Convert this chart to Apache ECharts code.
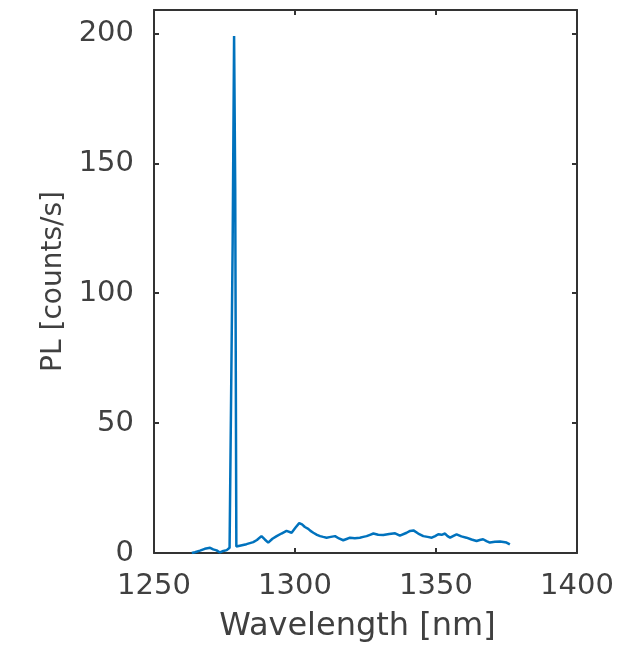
<!DOCTYPE html>
<html>
<head>
<meta charset="utf-8">
<script src="https://cdn.jsdelivr.net/npm/echarts@6/dist/echarts.min.js"></script>
<style>
html, body { margin: 0; padding: 0; background: #ffffff; }
#chart { width: 643px; height: 645px; }
</style>
</head>
<body>
<div id="chart"></div>
<script>
// Wavelength [nm]
var wavelength = [
  1263.4, 1264.5, 1266.3, 1268.0, 1269.9, 1271.0, 1272.2, 1273.4, 1274.6, 1275.8,
  1276.8, 1277.4, 1277.9, 1278.4, 1278.8, 1279.2, 1279.9, 1281.2, 1282.8, 1284.0,
  1285.2, 1286.5, 1288.1, 1289.3, 1290.5, 1292.0, 1293.5, 1295.2, 1297.0, 1298.8,
  1300.2, 1301.5, 1302.5, 1303.5, 1304.7, 1305.5, 1306.5, 1307.8, 1308.9, 1310.0,
  1311.2, 1312.7, 1314.2, 1315.6, 1317.1, 1318.3, 1319.5, 1321.2, 1323.0, 1324.2,
  1325.4, 1326.6, 1327.8, 1329.5, 1331.3, 1333.4, 1335.5, 1337.2, 1339.6, 1340.8,
  1342.0, 1343.7, 1345.5, 1347.0, 1348.5, 1349.7, 1350.8, 1352.0, 1353.2, 1354.1,
  1355.0, 1356.2, 1357.3, 1359.0, 1360.8, 1362.6, 1364.4, 1365.5, 1366.7, 1367.9,
  1369.1, 1370.9, 1372.7, 1373.9, 1375.0, 1376.2
];
// PL [counts/s]
var pl = [
  0.0, 0.3, 0.9, 1.6, 2.0, 1.4, 1.0, 0.2, 0.8, 1.1,
  2.0, 2.2, 120, 199, 140, 2.5, 2.2, 3.0, 3.4, 3.8,
  4.2, 5.0, 6.5, 5.2, 4.0, 5.5, 6.5, 7.5, 8.5, 7.8,
  9.8, 11.5, 11.0, 10.0, 9.3, 8.5, 7.8, 7.0, 6.5, 6.2,
  5.9, 6.2, 6.5, 5.6, 4.9, 5.4, 5.9, 5.7, 5.9, 6.2,
  6.5, 7.0, 7.5, 7.0, 6.9, 7.3, 7.6, 6.7, 7.8, 8.5,
  8.7, 7.5, 6.5, 6.2, 5.9, 6.5, 7.2, 7.0, 7.5, 6.5,
  5.9, 6.6, 7.2, 6.4, 5.9, 5.2, 4.6, 5.0, 5.3, 4.6,
  4.0, 4.3, 4.4, 4.2, 4.0, 3.3
];
var xTicks = [1250, 1300, 1350, 1400];
var yTicks = [0, 50, 100, 150, 200];
var xMin = 1250, xMax = 1400;
var yMin = 0, yMax = 209;

var seriesData = wavelength.map(function (w, i) { return [w, pl[i]]; });

var axisColor = '#333333';
var textColor = '#404040';
var fontFam = '"DejaVu Sans", "Liberation Sans", Arial, sans-serif';
function plain(v) { return String(v); }

function makeX(pos, showLabels, name) {
  return {
    type: 'value', position: pos, min: xMin, max: xMax, interval: 50,
    name: name || '', nameLocation: 'middle', nameGap: 58,
    nameTextStyle: { color: textColor, fontSize: 32, fontFamily: fontFam, padding: [0, 16, 0, 0] },
    axisLine: { show: true, onZero: false, lineStyle: { color: axisColor, width: 2 } },
    axisTick: { show: true, inside: true, length: 5, customValues: xTicks, lineStyle: { color: axisColor, width: 2 } },
    axisLabel: { show: showLabels, customValues: xTicks, formatter: plain, margin: 19, color: textColor, fontSize: 29, fontFamily: fontFam },
    splitLine: { show: false }
  };
}
function makeY(pos, showLabels, name) {
  return {
    type: 'value', position: pos, min: yMin, max: yMax, interval: 50,
    name: name || '', nameLocation: 'middle', nameGap: 86,
    nameTextStyle: { color: textColor, fontSize: 28, fontFamily: fontFam },
    axisLine: { show: true, onZero: false, lineStyle: { color: axisColor, width: 2 } },
    axisTick: { show: true, inside: true, length: 5, customValues: yTicks, lineStyle: { color: axisColor, width: 2 } },
    axisLabel: { show: showLabels, customValues: yTicks, formatter: plain, margin: 20, color: textColor, fontSize: 29, fontFamily: fontFam },
    splitLine: { show: false }
  };
}

var chart = echarts.init(document.getElementById('chart'), null, { renderer: 'canvas' });
chart.setOption({
  backgroundColor: '#ffffff',
  animation: false,
  grid: { left: 154, right: 66, top: 10, bottom: 92, containLabel: false, outerBoundsMode: 'none' },
  xAxis: [makeX('bottom', true, 'Wavelength [nm]'), makeX('top', false)],
  yAxis: [makeY('left', true, 'PL [counts/s]'), makeY('right', false)],
  series: [{
    type: 'line',
    data: seriesData,
    xAxisIndex: 0, yAxisIndex: 0,
    showSymbol: false,
    lineStyle: { color: '#0072BD', width: 2.5 },
    itemStyle: { color: '#0072BD' }
  }]
});
</script>
</body>
</html>
